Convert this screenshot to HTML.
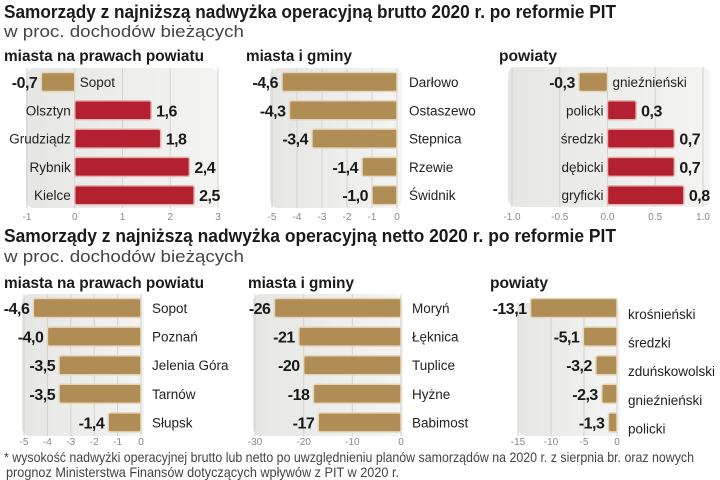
<!DOCTYPE html>
<html><head><meta charset="utf-8">
<style>
html,body{margin:0;padding:0;background:#fff;}
svg{display:block;font-family:"Liberation Sans",sans-serif;}
</style></head>
<body>
<svg id="c" width="720" height="480" viewBox="0 0 720 480">
<defs>
<linearGradient id="bg" x1="0" y1="0" x2="1" y2="0">
<stop offset="0" stop-color="#e6e6e4"/><stop offset="1" stop-color="#f4f4f2"/>
</linearGradient>
</defs>
<text x="4" y="18" font-size="18" font-weight="bold" fill="#1a1a1a" textLength="612" lengthAdjust="spacingAndGlyphs">Samorządy z najniższą nadwyżka operacyjną brutto 2020 r. po reformie PIT</text>
<text x="4" y="37" font-size="17" fill="#444" textLength="240" lengthAdjust="spacingAndGlyphs">w proc. dochodów bieżących</text>
<text x="4" y="61" font-size="16" font-weight="bold" fill="#1a1a1a" textLength="200" lengthAdjust="spacingAndGlyphs">miasta na prawach powiatu</text>
<text x="246" y="61" font-size="16" font-weight="bold" fill="#1a1a1a" textLength="106" lengthAdjust="spacingAndGlyphs">miasta i gminy</text>
<text x="499" y="61" font-size="16" font-weight="bold" fill="#1a1a1a" textLength="58" lengthAdjust="spacingAndGlyphs">powiaty</text>

<text x="4" y="242" font-size="18" font-weight="bold" fill="#1a1a1a" textLength="612" lengthAdjust="spacingAndGlyphs">Samorządy z najniższą nadwyżka operacyjną netto  2020 r. po reformie PIT</text>
<text x="4" y="262" font-size="17" fill="#444" textLength="240" lengthAdjust="spacingAndGlyphs">w proc. dochodów bieżących</text>
<text x="4" y="288" font-size="16" font-weight="bold" fill="#1a1a1a" textLength="200" lengthAdjust="spacingAndGlyphs">miasta na prawach powiatu</text>
<text x="248" y="288" font-size="16" font-weight="bold" fill="#1a1a1a" textLength="106" lengthAdjust="spacingAndGlyphs">miasta i gminy</text>
<text x="490" y="288" font-size="16" font-weight="bold" fill="#1a1a1a" textLength="58" lengthAdjust="spacingAndGlyphs">powiaty</text>

<text x="4" y="462" font-size="14" fill="#444" textLength="690" lengthAdjust="spacingAndGlyphs">* wysokość nadwyżki operacyjnej brutto lub netto po uwzględnieniu planów samorządów na 2020 r. z sierpnia br. oraz nowych</text>
<text x="6" y="477" font-size="14" fill="#444" textLength="393" lengthAdjust="spacingAndGlyphs">prognoz Ministerstwa Finansów dotyczących wpływów z PIT w 2020 r.</text>
<g id="charts"></g>
</svg>
<script>
// Data arrays
const t1Cats = ["Sopot","Olsztyn","Grudziądz","Rybnik","Kielce"];
const t1Vals = [-0.7,1.6,1.8,2.4,2.5];
const t1Ticks = [-1,0,1,2,3];
const t1Labels = ["-1","0","1","2","3"];
const t1Shown = ["-0,7","1,6","1,8","2,4","2,5"];

const t2Cats = ["Darłowo","Ostaszewo","Stepnica","Rzewie","Świdnik"];
const t2Vals = [-4.6,-4.3,-3.4,-1.4,-1.0];
const t2Ticks = [-5,-4,-3,-2,-1,0];
const t2Labels = ["-5","-4","-3","-2","-1","0"];
const t2Shown = ["-4,6","-4,3","-3,4","-1,4","-1,0"];

const t3Cats = ["gnieźnieński","policki","średzki","dębicki","gryficki"];
const t3Vals = [-0.3,0.3,0.7,0.7,0.8];
const t3Ticks = [-1,-0.5,0,0.5,1];
const t3Labels = ["-1.0","-0.5","0.0","0.5","1.0"];
const t3Shown = ["-0,3","0,3","0,7","0,7","0,8"];

const b1Cats = ["Sopot","Poznań","Jelenia Góra","Tarnów","Słupsk"];
const b1Vals = [-4.6,-4.0,-3.5,-3.5,-1.4];
const b1Ticks = [-5,-4,-3,-2,-1,0];
const b1Labels = ["-5","-4","-3","-2","-1","0"];
const b1Shown = ["-4,6","-4,0","-3,5","-3,5","-1,4"];

const b2Cats = ["Moryń","Łęknica","Tuplice","Hyżne","Babimost"];
const b2Vals = [-26,-21,-20,-18,-17];
const b2Ticks = [-30,-20,-10,0];
const b2Labels = ["-30","-20","-10","0"];
const b2Shown = ["-26","-21","-20","-18","-17"];

const b3Cats = ["krośnieński","średzki","zduńskowolski","gnieźnieński","policki"];
const b3Vals = [-13.1,-5.1,-3.2,-2.3,-1.3];
const b3Ticks = [-15,-10,-5,0];
const b3Labels = ["-15","-10","-5","0"];
const b3Shown = ["-13,1","-5,1","-3,2","-2,3","-1,3"];

const NS="http://www.w3.org/2000/svg";
const root=document.getElementById('charts');
function mk(tag,attrs,parent){const e=document.createElementNS(NS,tag);for(const k in attrs)e.setAttribute(k,attrs[k]);(parent||root).appendChild(e);return e;}

function chart(cfg,cats,vals,ticks,labels,shown,name){
  const g=mk('g',{});
  
  
  const xs=v=>cfg.x0+(v-cfg.d0)*(cfg.x1-cfg.x0)/(cfg.d1-cfg.d0);
  const bg=mk('rect',{x:cfg.bx0,y:cfg.by0,width:cfg.bx1-cfg.bx0,height:cfg.by1-cfg.by0,rx:8,fill:'url(#bg)'},g);
  
  
  ticks.forEach((t,i)=>{
    const gl=mk('line',{x1:xs(t),x2:xs(t),y1:cfg.by0,y2:cfg.by1,stroke:'#d2d2d0','stroke-width':1},g);
    
    
    const tl=mk('text',{x:xs(t),y:cfg.ty,'font-size':10,fill:'#888','text-anchor':'middle'},g);
    tl.textContent=labels[i];
    
    
  });
  cats.forEach((c,i)=>{
    const v=vals[i];
    const y=cfg.y0+i*cfg.step;
    const xa=xs(Math.min(0,v)), xb=xs(Math.max(0,v));
    const bar=mk('rect',{x:xa,y:y-cfg.bh/2,width:Math.max(1,xb-xa),height:cfg.bh,rx:2,fill:v<0?'#b08d55':'#b3202f',stroke:v<0?'#e3d6bd':'#e5b5b5','stroke-width':1.5},g);
    
    
    const vl=mk('text',{x:v<0?xa-4:xb+5,y:y+6,'font-size':16,'font-weight':'bold',fill:'#1a1a1a','text-anchor':v<0?'end':'start','letter-spacing':'-0.5'},g);
    vl.textContent=shown[i];
    
    
    const ly=y+5+(cfg.lyOff||0);
    let cl;
    if(cfg.labX!==undefined){cl=mk('text',{x:cfg.labX,y:ly,'font-size':13.5,fill:'#222'},g);}
    else if(v<0){cl=mk('text',{x:xs(0)+5,y:ly,'font-size':13.5,fill:'#222'},g);}
    else{cl=mk('text',{x:xs(0)-4,y:ly,'font-size':13.5,fill:'#222','text-anchor':'end'},g);}
    cl.textContent=c;
    
    
  });
}
chart({x0:27,x1:218,d0:-1,d1:3,bx0:26,bx1:218,by0:68,by1:208,y0:82,step:28.3,bh:19,ty:220},t1Cats,t1Vals,t1Ticks,t1Labels,t1Shown,'top-cities-chart');
chart({x0:272,x1:397,d0:-5,d1:0,bx0:270,bx1:402,by0:68,by1:208,y0:82,step:28.3,bh:19,ty:220,labX:409},t2Cats,t2Vals,t2Ticks,t2Labels,t2Shown,'top-towns-chart');
chart({x0:512,x1:703,d0:-1,d1:1,bx0:508,bx1:710,by0:67,by1:207,y0:82,step:28.3,bh:19,ty:220},t3Cats,t3Vals,t3Ticks,t3Labels,t3Shown,'top-counties-chart');
chart({x0:24,x1:141,d0:-5,d1:0,bx0:22,bx1:144,by0:294,by1:436,y0:308,step:28.6,bh:19,ty:445,labX:152},b1Cats,b1Vals,b1Ticks,b1Labels,b1Shown,'bottom-cities-chart');
chart({x0:255,x1:401,d0:-30,d1:0,bx0:253,bx1:403,by0:294,by1:436,y0:308,step:28.6,bh:19,ty:445,labX:412},b2Cats,b2Vals,b2Ticks,b2Labels,b2Shown,'bottom-towns-chart');
chart({x0:518,x1:617,d0:-15,d1:0,bx0:518,bx1:620,by0:303,by1:436,y0:308,step:28.6,bh:19,ty:445,labX:628,lyOff:6},b3Cats,b3Vals,b3Ticks,b3Labels,b3Shown,'bottom-counties-chart');
</script>
</body></html>
